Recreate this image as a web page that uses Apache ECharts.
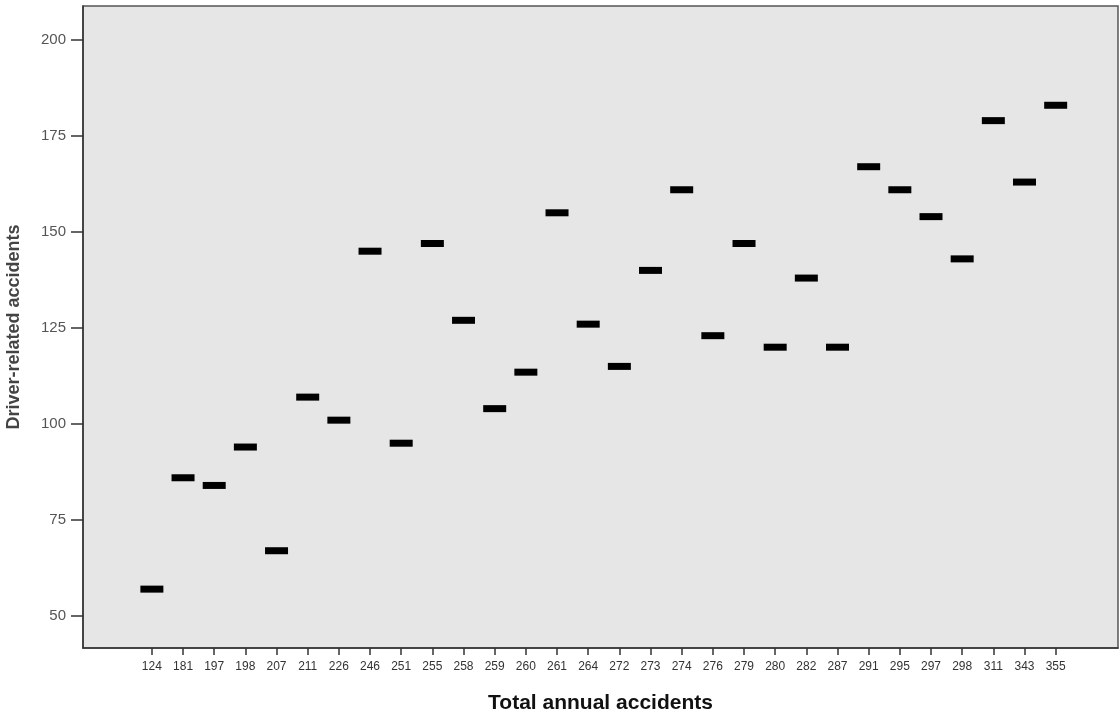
<!DOCTYPE html>
<html>
<head>
<meta charset="utf-8">
<script src="https://cdn.jsdelivr.net/npm/echarts@6/dist/echarts.min.js"></script>
<style>
html,body{margin:0;padding:0;background:#ffffff;}
#chart{width:1120px;height:715px;}
</style>
</head>
<body>
<div id="chart"></div>
<script>
const categories = ['124','181','197','198','207','211','226','246','251','255','258','259','260','261','264','272','273','274','276','279','280','282','287','291','295','297','298','311','343','355'];
const driverRelated = [57,86,84,94,67,107,101,145,95,147,127,104,113.5,155,126,115,140,161,123,147,120,138,120,167,161,154,143,179,163,183];
const yTicks = [50,75,100,125,150,175,200];
const xTitle = 'Total annual accidents';
const yTitle = 'Driver-related accidents';

const idx = categories.map((c,i)=>i);
const chart = echarts.init(document.getElementById('chart'));
chart.setOption({
  backgroundColor: '#ffffff',
  animation: false,
  grid: {left: 83, top: 6, right: 2, bottom: 67, outerBoundsMode: 'none', containLabel: false, show: true, backgroundColor: '#e6e6e6', borderColor: '#555', borderWidth: 1.5},
  xAxis: {
    type: 'value', min: -2.21, max: 31.0,
    name: xTitle, nameLocation: 'middle', nameGap: 45,
    nameTextStyle: {fontFamily: 'Liberation Sans', fontWeight: 'bold', fontSize: 21, color: '#111'},
    axisLine: {show: true, onZero: false, lineStyle: {color: '#333', width: 1.5}},
    axisTick: {show: true, customValues: idx, length: 7, inside: false, lineStyle: {color: '#333', width: 1.5}},
    axisLabel: {customValues: idx, formatter: v => categories[Math.round(v)], margin: 13, fontFamily: 'Liberation Sans', fontSize: 12, color: '#333'},
    splitLine: {show: false}
  },
  yAxis: {
    type: 'value', min: 41.67, max: 208.85,
    name: yTitle, nameLocation: 'middle', nameGap: 60, nameRotate: 90,
    nameTextStyle: {fontFamily: 'Liberation Sans', fontWeight: 'bold', fontSize: 18, color: '#444'},
    axisLine: {show: true, onZero: false, lineStyle: {color: '#333', width: 1.5}},
    axisTick: {show: true, customValues: yTicks, length: 12, lineStyle: {color: '#333', width: 1.5}},
    axisLabel: {customValues: yTicks, margin: 17, fontFamily: 'Liberation Sans', fontSize: 15, color: '#555'},
    splitLine: {show: false}
  },
  series: [{
    type: 'scatter',
    data: driverRelated.map((v,i)=>[i,v]),
    symbol: 'rect',
    symbolSize: [23, 7],
    itemStyle: {color: '#000', opacity: 1}
  }]
});
</script>
</body>
</html>
